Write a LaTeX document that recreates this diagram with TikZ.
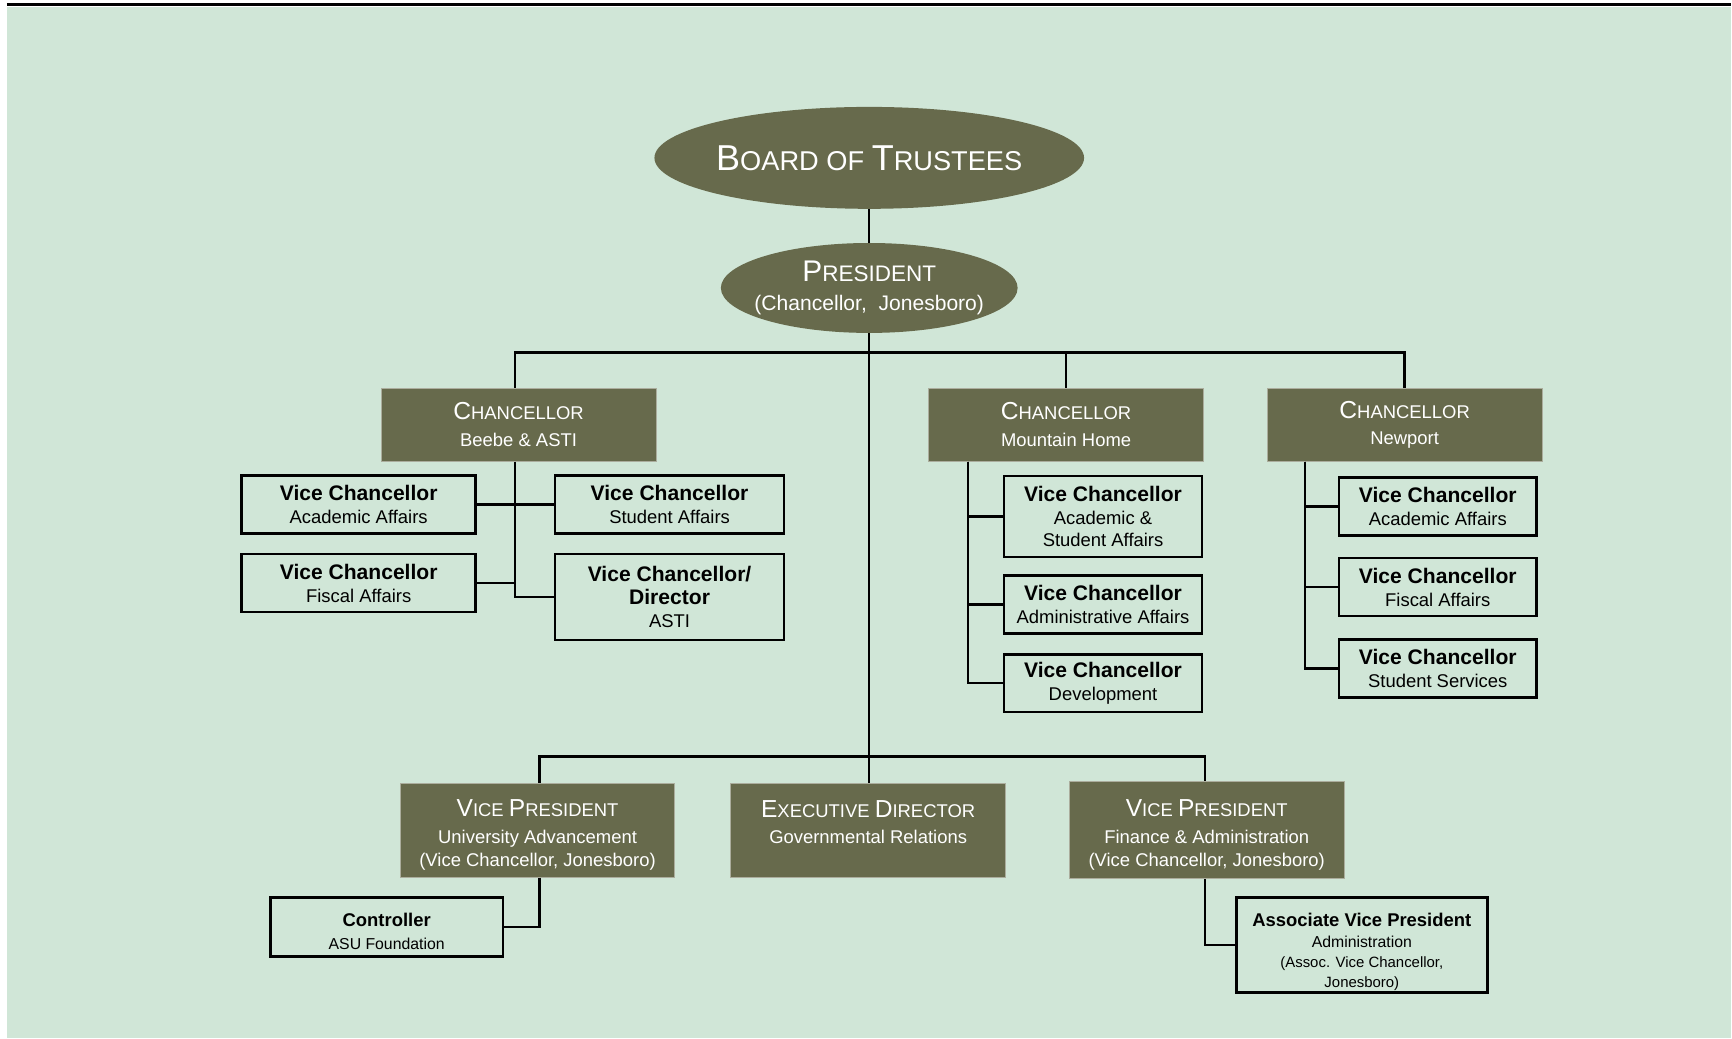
\documentclass[tikz,border=0pt]{standalone}
\usepackage{fontspec}
\setmainfont{Liberation Sans}
\usetikzlibrary{positioning,shapes.geometric}
\definecolor{bggreen}{RGB}{208,230,215}
\definecolor{boxolive}{RGB}{103,106,76}
\newcommand{\smc}[4]{{\fontsize{#1}{#1}\selectfont #3}{\fontsize{#2}{#2}\selectfont #4}}
\newcommand{\vctitle}[1]{{\bfseries\fontsize{12}{13}\selectfont #1}}
\newcommand{\padtop}[1]{\rule{0pt}{#1}}

\begin{document}
\begin{tikzpicture}[x=0.2mm, y=-0.2mm,
ovalnode/.style={ellipse, fill=boxolive, text=white, inner sep=0pt, inner xsep=-14pt, align=center},
headnode/.style={rectangle, fill=boxolive, draw=boxolive!55!white, line width=0.5pt, text=white, inner sep=0pt, minimum width=55mm, minimum height=14.6mm, align=center, font=\fontsize{10.5}{15}\selectfont},
vcnode/.style={rectangle, draw=black, line width=1.5pt, inner sep=0pt, minimum height=11.6mm, align=center, font=\fontsize{10.5}{13}\selectfont},
link/.style={line width=1.4pt},
]
%Background
\fill[white] (0,0) rectangle (1732,1039);
\fill[bggreen] (7,7) rectangle (1732,1039);
\draw[line width=0.6mm] (7,5) -- (1732,5);
\useasboundingbox (0,0) rectangle (1732,1039);

%Nodes
\node[ovalnode, minimum width=86mm, minimum height=20.4mm] (bot) at (870,158) {\smc{20.5}{15.5}{B}{OARD OF }\smc{20.5}{15.5}{T}{RUSTEES}};
\node[ovalnode, minimum width=59.4mm, minimum height=18mm, font=\fontsize{12}{16}\selectfont] (pres) [below=6.7mm of bot] {\smc{17}{12.8}{P}{RESIDENT}\\(Chancellor,\ \ Jonesboro)};

\node[headnode] (chb) at (519,425) {\smc{14}{10.5}{C}{HANCELLOR}\\Beebe \& ASTI};
\node[headnode] (chm) at (1067,425) {\smc{14}{10.5}{C}{HANCELLOR}\\Mountain Home};
\node[headnode] (chn) [right=12.6mm of chm] {\smc{14}{10.5}{C}{HANCELLOR}\\Newport};

\node[vcnode, minimum width=46.8mm] (vbaa) at (359,505) {\vctitle{Vice Chancellor}\\Academic Affairs};
\node[vcnode, minimum width=45.8mm] (vbsa) [right=15.4mm of vbaa] {\vctitle{Vice Chancellor}\\Student Affairs};
\node[vcnode, minimum width=46.8mm] (vbfa) [below=3.6mm of vbaa] {\vctitle{Vice Chancellor}\\Fiscal Affairs};
\node[vcnode, minimum width=45.8mm, minimum height=17.2mm] (vbas) [below=3.6mm of vbsa] {\vctitle{Vice Chancellor/}\\\vctitle{Director}\\ASTI};

\node[vcnode, minimum width=39.6mm, minimum height=16.2mm] (vmas) at (1104,517) {\vctitle{Vice Chancellor}\\Academic \&\\Student Affairs};
\node[vcnode, minimum width=39.6mm] (vmad) [below=3.2mm of vmas] {\vctitle{Vice Chancellor}\\Administrative Affairs};
\node[vcnode, minimum width=39.6mm] (vmdv) [below=3.6mm of vmad] {\vctitle{Vice Chancellor}\\Development};

\node[vcnode, minimum width=39.6mm] (vnaa) at (1439,507) {\vctitle{Vice Chancellor}\\Academic Affairs};
\node[vcnode, minimum width=39.6mm] (vnfa) [below=4mm of vnaa] {\vctitle{Vice Chancellor}\\Fiscal Affairs};
\node[vcnode, minimum width=39.6mm] (vnss) [below=4.2mm of vnfa] {\vctitle{Vice Chancellor}\\Student Services};

\node[headnode, minimum height=18.8mm] (vpua) at (538,831) {\padtop{15pt}\smc{14}{10.5}{V}{ICE }\smc{14}{10.5}{P}{RESIDENT}\\University Advancement\\[-2pt](Vice Chancellor, Jonesboro)};
\node[headnode, minimum height=18.8mm] (exd) [right=11mm of vpua] {\padtop{13pt}\smc{14}{10.5}{E}{XECUTIVE }\smc{14}{10.5}{D}{IRECTOR}\\Governmental Relations\\[-2pt]\mbox{}};
\node[headnode, minimum height=19.4mm] (vpf) [right=12.6mm of exd] {\padtop{15pt}\smc{14}{10.5}{V}{ICE }\smc{14}{10.5}{P}{RESIDENT}\\Finance \& Administration\\[-2pt](Vice Chancellor, Jonesboro)};

\node[vcnode, minimum width=46.6mm, minimum height=11.8mm, font=\fontsize{9}{13}\selectfont] (ctrl) at (387,928) {\padtop{12.5pt}{\bfseries\fontsize{10.5}{13}\selectfont Controller}\\ASU Foundation};
\node[vcnode, minimum width=50.2mm, minimum height=19mm, font=\fontsize{9}{11.5}\selectfont] (avp) at (1363,946) {\padtop{15.5pt}{\bfseries\fontsize{10.5}{12}\selectfont Associate Vice President}\\Administration\\{\fontsize{8.5}{11.5}\selectfont (Assoc. Vice Chancellor,}\\{\fontsize{8.5}{11.5}\selectfont Jonesboro)}};

%Lines
\coordinate (tbus) at (869,353);
\coordinate (bbus) at (869,757);
\coordinate (bbsp) at ([xshift=-0.7mm]chb.south);
\draw[link] (bot.south) -- (pres.north);
\draw[link] (pres.south) -- (pres.south |- exd.north);
\draw[link] (bbsp |- chb.north) |- (tbus) -| (chn.north);
\draw[link] (chm.north) -- (chm.north |- tbus);
\draw[link] ([xshift=0.4mm]vpua.north) |- (bbus) -| ([xshift=-0.4mm]vpf.north);

\draw[link] (bbsp) |- (vbas.west);
\draw[link] (vbaa.east) -- (vbsa.west);
\draw[link] (vbfa.east) -- (vbfa.east -| bbsp);

\coordinate (mhsp) at ([xshift=8mm]chm.south west);
\draw[link] (mhsp) |- (vmas.west);
\draw[link] (mhsp) |- (vmad.west);
\draw[link] (mhsp) |- (vmdv.west);

\coordinate (npsp) at ([xshift=7.6mm]chn.south west);
\draw[link] (npsp) |- (vnaa.west);
\draw[link] (npsp) |- (vnfa.west);
\draw[link] (npsp) |- (vnss.west);

\draw[link] ([xshift=0.4mm]vpua.south) |- (ctrl.east);
\draw[link] ([xshift=-0.4mm]vpf.south) |- (avp.west);
\end{tikzpicture}
\end{document}
